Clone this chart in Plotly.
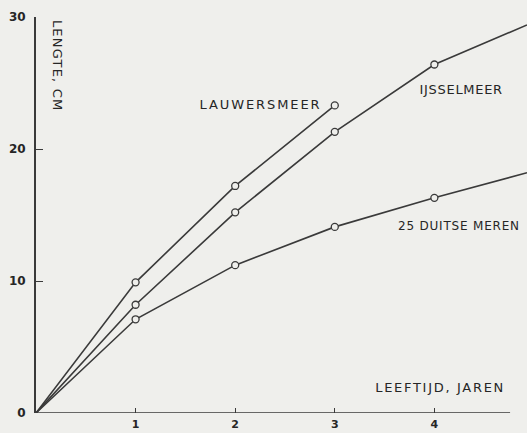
import plotly.graph_objects as go

# Data (age in years, length in cm)
lauwersmeer_x = [0, 1, 2, 3]
lauwersmeer_y = [0, 9.9, 17.2, 23.3]

ijsselmeer_x = [0, 1, 2, 3, 4, 4.93]
ijsselmeer_y = [0, 8.2, 15.2, 21.3, 26.4, 29.4]

duitse_x = [0, 1, 2, 3, 4, 4.93]
duitse_y = [0, 7.1, 11.2, 14.1, 16.3, 18.2]

marker_years = [1, 2, 3, 4]
x_ticks = [1, 2, 3, 4]
x_tick_labels = ["1", "2", "3", "4"]
y_ticks = [0, 10, 20, 30]
y_tick_labels = ["0", "10", "20", "30"]

INK = "#3a3a3a"
TXT = "#262626"
BG = "#efefec"

fig = go.Figure()

for xs, ys in [(lauwersmeer_x, lauwersmeer_y), (ijsselmeer_x, ijsselmeer_y), (duitse_x, duitse_y)]:
    fig.add_trace(go.Scatter(x=xs, y=ys, mode="lines",
                             line=dict(color=INK, width=1.6), showlegend=False,
                             hoverinfo="skip"))
    mx = [x for x in xs if x in marker_years]
    my = [y for x, y in zip(xs, ys) if x in marker_years]
    fig.add_trace(go.Scatter(x=mx, y=my, mode="markers",
                             marker=dict(symbol="circle", size=7, color=BG,
                                         line=dict(color=INK, width=1.3)),
                             showlegend=False))

# x axis baseline (drawn shorter than plot width, as in reference)
fig.add_shape(type="line", x0=0, x1=4.76, y0=0, y1=0, xref="x", yref="y",
              line=dict(color=INK, width=1.6))

lab_font = dict(family="DejaVu Sans, sans-serif", size=13, color=TXT)
small_font = dict(family="DejaVu Sans, sans-serif", size=12, color=TXT)
fig.add_annotation(x=2.25, y=23.4, text="LAUWERSMEER", showarrow=False,
                   xanchor="center", yanchor="middle", font=lab_font)
fig.add_annotation(x=4.27, y=24.5, text="IJSSELMEER", showarrow=False,
                   xanchor="center", yanchor="middle", font=lab_font)
fig.add_annotation(x=4.25, y=14.2, text="25 DUITSE MEREN", showarrow=False,
                   xanchor="center", yanchor="middle", font=small_font)
fig.add_annotation(x=4.06, y=1.97, text="LEEFTIJD, JAREN", showarrow=False,
                   xanchor="center", yanchor="middle", font=lab_font)
fig.add_annotation(x=0.21, y=26.3, text="LENGTE, CM", showarrow=False,
                   textangle=90, xanchor="center", yanchor="middle", font=lab_font)

fig.update_xaxes(range=[0, 4.93], showline=False, showgrid=False, zeroline=False,
                 automargin=False,
                 tickmode="array", tickvals=x_ticks,
                 ticktext=["<b>%s</b>" % t for t in x_tick_labels],
                 ticks="inside", ticklen=5, tickcolor=INK, tickwidth=1.2,
                 ticklabelstandoff=3,
                 tickfont=dict(family="DejaVu Sans, sans-serif", size=11, color=TXT))
fig.update_yaxes(range=[0, 30], showline=True, linecolor=INK, linewidth=2,
                 showgrid=False, zeroline=False, automargin=False,
                 tickmode="array", tickvals=y_ticks,
                 ticktext=["<b>%s</b>" % t for t in y_tick_labels],
                 ticks="inside", ticklen=7, tickcolor=INK, tickwidth=1.2,
                 ticklabelstandoff=6,
                 tickfont=dict(family="DejaVu Sans, sans-serif", size=12, color=TXT))

fig.update_layout(width=527, height=433, margin=dict(l=36, r=0, t=17, b=20),
                  paper_bgcolor=BG, plot_bgcolor=BG, showlegend=False)

css = (
    '.annotation-text{letter-spacing:1.2px;}'
    '.annotation[data-index="0"] .annotation-text{letter-spacing:1.9px;}'
    '.annotation[data-index="1"] .annotation-text{letter-spacing:0.7px;}'
    '.annotation[data-index="2"] .annotation-text{letter-spacing:0.8px;}'
    '.annotation[data-index="3"] .annotation-text{letter-spacing:1.7px;}'
    '.annotation[data-index="4"] .annotation-text{letter-spacing:1.2px;}'
)
post = (
    "document.body.style.margin='0';"
    "document.body.style.background='%s';"
    "document.body.style.overflow='hidden';"
    "var st=document.createElement('style');"
    "st.textContent='%s';"
    "document.head.appendChild(st);" % (BG, css.replace("'", "\\'"))
)

fig.write_html("out.html", config={"displayModeBar": False}, post_script=post)
